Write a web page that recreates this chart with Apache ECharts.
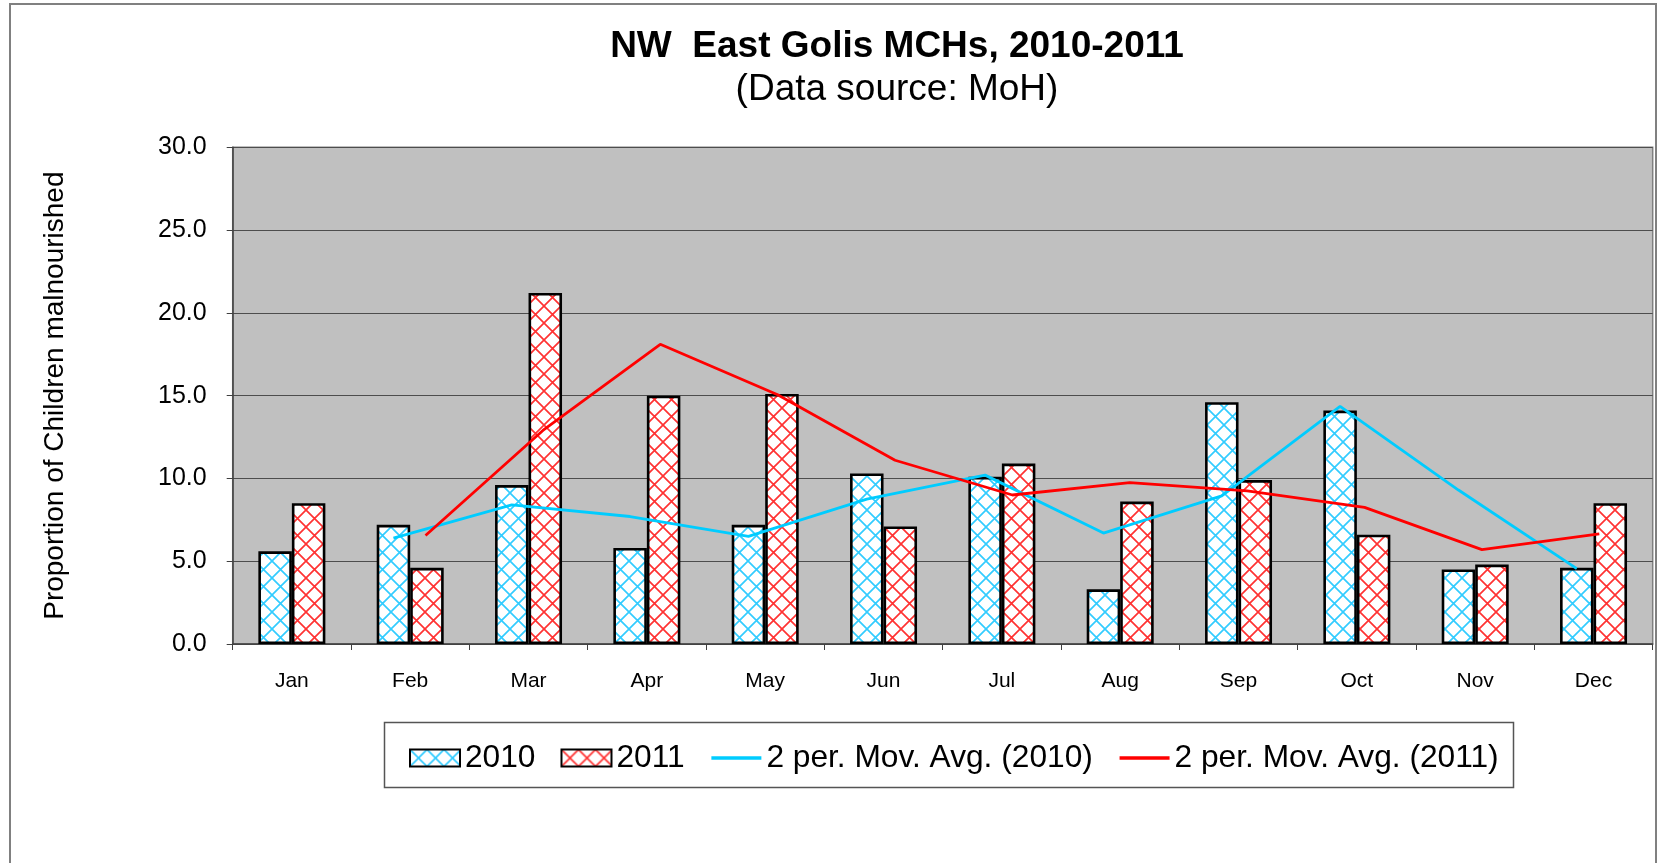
<!DOCTYPE html>
<html>
<head>
<meta charset="utf-8">
<title>NW East Golis MCHs, 2010-2011</title>
<script src="https://cdn.jsdelivr.net/npm/echarts@6/dist/echarts.min.js"></script>
<style>
    html, body { margin: 0; padding: 0; background: #ffffff; }
    #chart { width: 1658px; height: 863px; }
</style>
</head>
<body>
<div id="chart"></div>
<script>
// values
const months = ['Jan', 'Feb', 'Mar', 'Apr', 'May', 'Jun', 'Jul', 'Aug', 'Sep', 'Oct', 'Nov', 'Dec']
const y2010 = [5.6, 7.2, 9.6, 5.8, 7.2, 10.3, 10.1, 3.3, 14.6, 14.1, 4.5, 4.6]
const y2011 = [8.5, 4.6, 21.2, 15.0, 15.1, 7.1, 10.9, 8.6, 9.9, 6.6, 4.8, 8.5]
// 2 period moving average trend lines (no point for Jan)
const avg2010 = [null, 6.4, 8.4, 7.7, 6.5, 8.75, 10.2, 6.7, 8.95, 14.35, 9.3, 4.55]
const avg2011 = [null, 6.55, 12.9, 18.1, 15.05, 11.1, 9.0, 9.75, 9.25, 8.25, 5.7, 6.65]
const seriesNames = ['2010', '2011', '2 per. Mov. Avg. (2010)', '2 per. Mov. Avg. (2011)']

const font = '"Liberation Sans", Arial, sans-serif'

// plot area
const plotLeft = 232.7
const plotTop = 147.3
const plotWidth = 1420
const plotHeight = 496.7
const barW = 33.5

// 交叉斜线填充
const makePattern = (color) => {
    const s = 17
    const c = document.createElement('canvas')
    c.width = s
    c.height = s
    const ctx = c.getContext('2d')
    ctx.fillStyle = '#ffffff'
    ctx.fillRect(0, 0, s, s)
    ctx.strokeStyle = color
    ctx.lineWidth = 1.7
    ctx.beginPath()
    for (const k of [-s, 0, s]) {
        ctx.moveTo(k, 0)
        ctx.lineTo(k + s, s)
        ctx.moveTo(k + s, 0)
        ctx.lineTo(k, s)
    }
    ctx.stroke()
    return c
}

const chart = echarts.init(document.getElementById('chart'))

// hidden helper axes so the trend lines sit on the bar centres
const hiddenX = (i) => ({
    type: 'category', gridIndex: i, data: months, show: false
})
const hiddenY = (i) => ({
    type: 'value', gridIndex: i, min: 0, max: 30, interval: 5, show: false
})

const option = {
    backgroundColor: '#ffffff',
    animation: false,
    textStyle: { fontFamily: font },
    grid: [{
        left: plotLeft, top: plotTop, width: plotWidth, height: plotHeight,
        show: true,
        backgroundColor: '#c0c0c0',
        borderColor: '#808080',
        borderWidth: 1.5
    }, {
        left: plotLeft - barW / 2, top: plotTop, width: plotWidth, height: plotHeight
    }, {
        left: plotLeft + barW / 2, top: plotTop, width: plotWidth, height: plotHeight
    }],
    xAxis: [{
        type: 'category',
        gridIndex: 0,
        data: months,
        axisLine: { lineStyle: { color: '#404040', width: 1.5 } },
        axisTick: { show: true, length: 6, lineStyle: { color: '#404040' } },
        axisLabel: { color: '#000', fontSize: 21, margin: 27, fontFamily: font }
    }, hiddenX(1), hiddenX(2)],
    yAxis: [{
        type: 'value',
        gridIndex: 0,
        min: 0,
        max: 30,
        interval: 5,
        name: 'Proportion of Children malnourished',
        nameLocation: 'middle',
        nameGap: 163,
        nameTextStyle: { color: '#000', fontSize: 28, fontFamily: font },
        axisLine: { show: true, lineStyle: { color: '#404040', width: 1.5 } },
        axisTick: { show: true, length: 6, lineStyle: { color: '#404040' } },
        axisLabel: {
            color: '#000', fontSize: 25, margin: 26, fontFamily: font,
            formatter: (v) => v.toFixed(1)
        },
        splitLine: { lineStyle: { color: '#4d4d4d', width: 1.2 } }
    }, hiddenY(1), hiddenY(2)],
    legend: {
        left: 409,
        top: 742,
        padding: 0,
        itemWidth: 50,
        itemHeight: 17,
        itemGap: 25,
        textStyle: { color: '#000', fontSize: 31.7, fontFamily: font },
        data: [
            { name: seriesNames[0], icon: 'rect' },
            { name: seriesNames[1], icon: 'rect' },
            { name: seriesNames[2], itemStyle: { opacity: 0 }, lineStyle: { width: 3.5 } },
            { name: seriesNames[3], itemStyle: { opacity: 0 }, lineStyle: { width: 3.5 } }
        ]
    },
    graphic: [{
        // outer chart border
        type: 'rect',
        shape: { x: 10, y: 4, width: 1646, height: 900 },
        style: { fill: 'none', stroke: '#808080', lineWidth: 2 },
        silent: true
    }, {
        // legend box
        type: 'rect',
        shape: { x: 384.5, y: 722.5, width: 1129, height: 65 },
        style: { fill: 'none', stroke: '#555555', lineWidth: 1.5 },
        silent: true
    }, {
        type: 'text',
        x: 897,
        y: 47,
        style: {
            text: 'NW  East Golis MCHs, 2010-2011',
            fontSize: 37, fontWeight: 'bold', fontFamily: font,
            fill: '#000', textAlign: 'center', textVerticalAlign: 'middle'
        }
    }, {
        type: 'text',
        x: 897,
        y: 90,
        style: {
            text: '(Data source: MoH)',
            fontSize: 37, fontFamily: font,
            fill: '#000', textAlign: 'center', textVerticalAlign: 'middle'
        }
    }],
    series: [{
        name: seriesNames[0],
        type: 'bar',
        xAxisIndex: 0,
        yAxisIndex: 0,
        barWidth: barW,
        barGap: '0%',
        itemStyle: {
            color: { image: makePattern('#33ccff'), repeat: 'repeat' },
            borderColor: '#000',
            borderWidth: 2.6
        },
        data: y2010
    }, {
        name: seriesNames[1],
        type: 'bar',
        xAxisIndex: 0,
        yAxisIndex: 0,
        barWidth: barW,
        barGap: '0%',
        itemStyle: {
            color: { image: makePattern('#ff3333'), repeat: 'repeat' },
            borderColor: '#000',
            borderWidth: 2.6
        },
        data: y2011
    }, {
        name: seriesNames[2],
        type: 'line',
        xAxisIndex: 1,
        yAxisIndex: 1,
        symbol: 'none',
        z: 5,
        lineStyle: { color: '#00ccff', width: 2.8 },
        itemStyle: { color: '#00ccff' },
        data: avg2010
    }, {
        name: seriesNames[3],
        type: 'line',
        xAxisIndex: 2,
        yAxisIndex: 2,
        symbol: 'none',
        z: 5,
        lineStyle: { color: '#ff0000', width: 2.8 },
        itemStyle: { color: '#ff0000' },
        data: avg2011
    }]
}

chart.setOption(option)
</script>
</body>
</html>
